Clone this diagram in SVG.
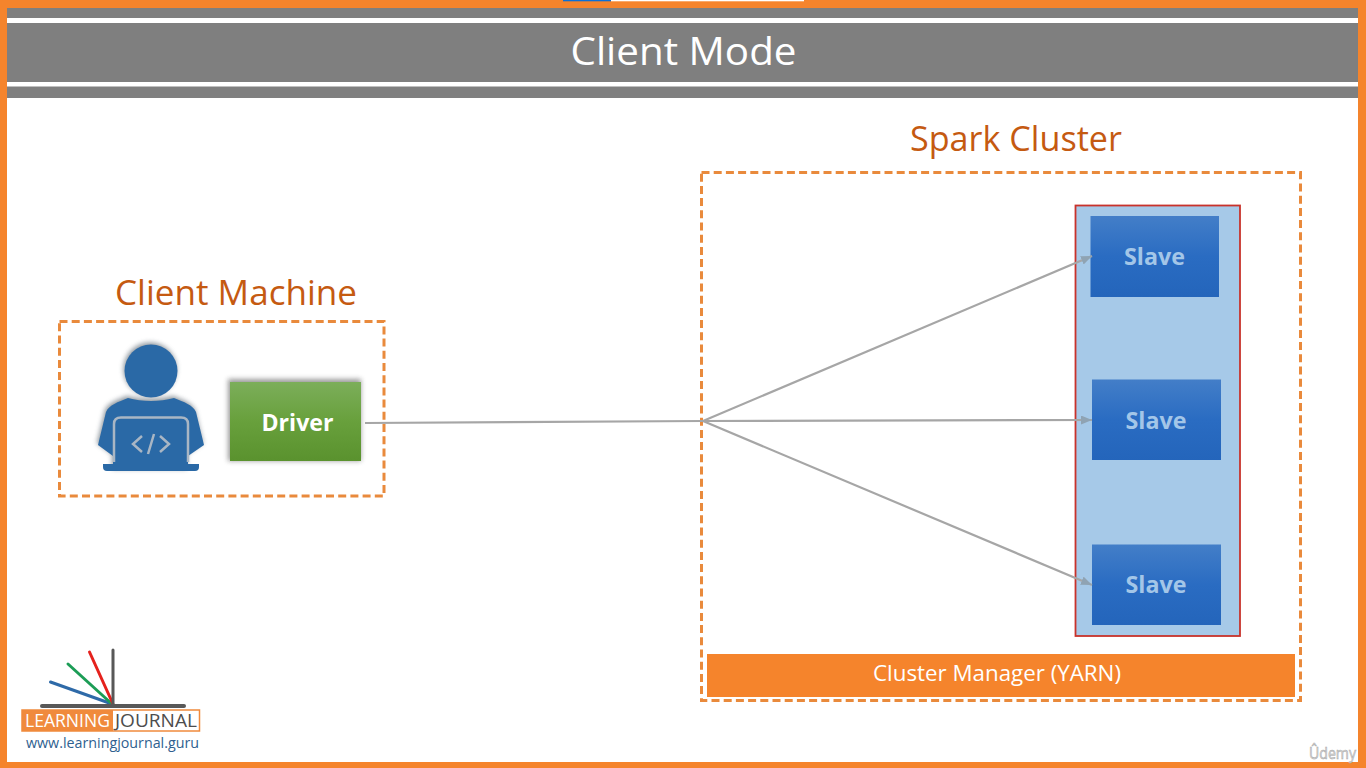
<svg xmlns="http://www.w3.org/2000/svg" width="1366" height="768" viewBox="0 0 1366 768">
<style>
text{font-family:"Open Sans","Noto Sans","Liberation Sans",sans-serif}
.h{fill:#c55a11;font-size:34px}
.dash{fill:none;stroke:#e98a3c;stroke-width:3;stroke-dasharray:8 4.2}
.slave{fill:url(#gb)}
.st{fill:#a3c6e8;font-size:24px;font-weight:700;text-anchor:middle}
.c{fill:none;stroke:#a6a6a6;stroke-width:2.200}
.a{fill:none;stroke:#a6a6a6;stroke-width:2.200;marker-end:url(#ah)}
</style>
<defs>
<linearGradient id="gb" x1="0" y1="0" x2="0" y2="1"><stop offset="0" stop-color="#437ec8"/><stop offset=".5" stop-color="#2a6cc2"/><stop offset="1" stop-color="#2465bb"/></linearGradient>
<linearGradient id="gg" x1="0" y1="0" x2="0" y2="1"><stop offset="0" stop-color="#7cae5a"/><stop offset=".5" stop-color="#68a03c"/><stop offset="1" stop-color="#5a922e"/></linearGradient>
<marker id="ah" markerUnits="userSpaceOnUse" markerWidth="12" markerHeight="10" refX="11" refY="4.5" orient="auto"><path d="M0 0L11 4.5L0 9Z" fill="#8fa3b3"/></marker>
<filter id="sh" x="-20%" y="-20%" width="140%" height="140%"><feGaussianBlur stdDeviation="2.500"/></filter>
<filter id="soft" x="-5%" y="-5%" width="110%" height="110%"><feGaussianBlur stdDeviation=".35"/></filter>
</defs>
<rect width="1366" height="768" fill="#fff"/>
<g id="frame">
<path d="M0 0H1366V768H0ZM7 8V762H1358V8Z" fill="#f5842c" fill-rule="evenodd"/>
<rect x="563" y="0" width="48" height="1.300" fill="#0a6fd6"/>
<rect x="611" y="0" width="193" height="1.300" fill="#fff"/>
</g>
<g id="title">
<rect x="7" y="8" width="1351" height="90" fill="#7f7f7f"/>
<rect x="7" y="18" width="1351" height="5" fill="#fff"/>
<rect x="7" y="82" width="1351" height="4.500" fill="#fff"/>
<text x="683.500" y="65" fill="#fff" font-size="38" text-anchor="middle" textLength="226" lengthAdjust="spacingAndGlyphs">Client Mode</text>
</g>
<g id="client-machine">
<text class="h" x="115" y="305" textLength="242" lengthAdjust="spacingAndGlyphs">Client Machine</text>
<rect class="dash" x="59.500" y="321.500" width="324.500" height="174.500"/>
</g>
<g id="user">
<g fill="#5f6a74" opacity=".7" filter="url(#sh)" transform="translate(-1,-2)">
<circle cx="151" cy="371" r="26.500"/>
<path d="M128 398C118 402 109 405 106 412L98 445L113 456V471H188V456L204 445L196 412C193 405 184 402 174 398C160 402 142 402 128 398Z"/>
</g>
<circle cx="151" cy="371" r="26.500" fill="#2a69a6"/>
<path d="M128 398C118 402 109 405 106 412L98 445L113 456V464H188V456L204 445L196 412C193 405 184 402 174 398C160 402 142 402 128 398Z" fill="#2a69a6"/>
<path d="M103 464H199V467Q199 471 195 471H107Q103 471 103 467Z" fill="#2a69a6"/>
<path d="M114 462V424Q114 417.500 121 417.500H181Q188 417.500 188 424V462" fill="none" stroke="#a9b6c4" stroke-width="2.500"/>
<path d="M142 436L133 444L142 452M160 436L169 444L160 452M154 434L148 454" fill="none" stroke="#a9b6c4" stroke-width="2.500"/>
</g>
<g id="driver">
<rect x="228" y="379" width="133" height="82" fill="#666" opacity=".65" filter="url(#sh)"/>
<rect x="230" y="382" width="131" height="79" fill="url(#gg)"/>
<text x="297.500" y="431" fill="#fff" font-size="24" font-weight="700" text-anchor="middle" textLength="72" lengthAdjust="spacingAndGlyphs">Driver</text>
</g>
<g id="spark-cluster">
<text class="h" x="910" y="151" textLength="212" lengthAdjust="spacingAndGlyphs">Spark Cluster</text>
<rect class="dash" x="701.500" y="172.500" width="599" height="528"/>
</g>
<g id="worker-area"><rect x="1075.500" y="205.500" width="164.500" height="430.500" fill="#a6c9e8" stroke="#c8322b" stroke-width="1.800"/></g>
<g id="slave-1"><rect class="slave" x="1090.500" y="216" width="128.500" height="81"/><text class="st" x="1154.500" y="265" textLength="61" lengthAdjust="spacingAndGlyphs">Slave</text></g>
<g id="slave-2"><rect class="slave" x="1092" y="379.500" width="129" height="80.500"/><text class="st" x="1156" y="429" textLength="61" lengthAdjust="spacingAndGlyphs">Slave</text></g>
<g id="slave-3"><rect class="slave" x="1092" y="544.500" width="129" height="80.500"/><text class="st" x="1156" y="593" textLength="61" lengthAdjust="spacingAndGlyphs">Slave</text></g>
<g id="cluster-manager">
<rect x="707" y="654" width="588" height="43" fill="#f5842c"/>
<text x="997" y="681" fill="#fff" font-size="21" text-anchor="middle" textLength="248" lengthAdjust="spacingAndGlyphs">Cluster Manager (YARN)</text>
</g>
<g id="connectors">
<path class="c" d="M365 423L703 421"/>
<path class="a" d="M703 421L1092 256"/>
<path class="a" d="M703 421L1092 420"/>
<path class="a" d="M703 421L1092 585"/>
</g>
<g id="logo">
<g filter="url(#soft)" fill="none" stroke-linecap="round">
<path d="M50.500 682L112 704" stroke="#2f6aa8" stroke-width="3"/>
<path d="M68 664L112 704" stroke="#1f9d57" stroke-width="3"/>
<path d="M89.500 652L113 704" stroke="#e5201f" stroke-width="3"/>
<path d="M113 650V705" stroke="#595959" stroke-width="3"/>
<path d="M42 706H184" stroke="#595959" stroke-width="4"/>
</g>
<rect x="22" y="710" width="177.500" height="21" fill="#fff" stroke="#f08a3c" stroke-width="1.500"/>
<rect x="22" y="710" width="91" height="21" fill="#f08a3c"/>
<text x="25" y="727" fill="#fff" font-size="18" textLength="85" lengthAdjust="spacingAndGlyphs">LEARNING</text>
<text x="115" y="727" fill="#4d4d4d" font-size="18" textLength="82" lengthAdjust="spacingAndGlyphs">JOURNAL</text>
<text x="26" y="748" fill="#2f5f8f" font-size="14" textLength="173" lengthAdjust="spacingAndGlyphs">www.learningjournal.guru</text>
</g>
<g id="watermark"><text x="1309" y="759" fill="#d4d4d4" stroke="#a8a8a8" stroke-width=".5" font-size="16" textLength="47" lengthAdjust="spacingAndGlyphs">Ûdemy</text></g>
</svg>
